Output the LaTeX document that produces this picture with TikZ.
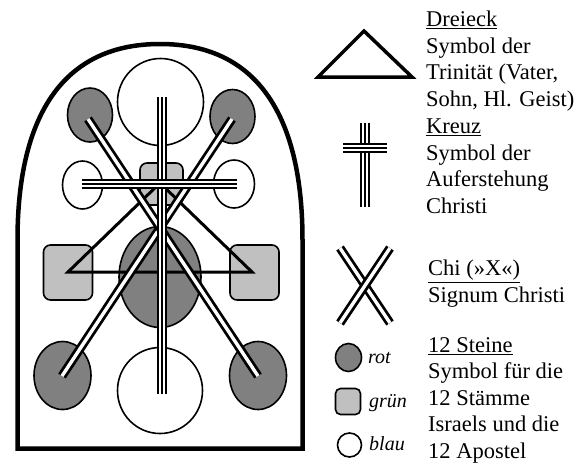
\documentclass[tikz,border=0pt]{standalone}
\usepackage{fontspec}
\setmainfont{Liberation Serif}
\usepackage{tikz}
\usetikzlibrary{shapes.geometric}
\definecolor{StoneRed}{RGB}{128, 128, 128}
\definecolor{StoneGreen}{RGB}{192, 192, 192}

\begin{document}
\begin{tikzpicture}[x=1pt, y=-1pt,
    stone/.style={draw=black, line width=1.6pt, inner sep=0pt},
    redstone/.style={stone, ellipse, fill=StoneRed},
    greenstone/.style={stone, rectangle, rounded corners=7pt, fill=StoneGreen},
    bluestone/.style={stone, ellipse, fill=white},
    tripleline/.style={line width=2pt, preaction={draw, line width=10pt}, preaction={draw=white, line width=6pt}},
    doubleline/.style={line width=2.8pt, double=white, double distance=3.4pt},
    legendtext/.style={font=\fontsize{22.5}{26.4}\selectfont, align=left, anchor=base west, inner sep=0pt},
    colorname/.style={font=\fontsize{20}{24}\selectfont\itshape, anchor=base west, inner sep=0pt}]
    \useasboundingbox (0,0) rectangle (586,464);

    % Window arch
    \draw[line width=4.5pt] (17.5,448.5) -- (17.5,240) .. controls (17.5,120) and (60,44) .. (160,44)
        .. controls (260,44) and (302.5,120) .. (302.5,240) -- (302.5,448.5) -- cycle;

    % 12 stones
    \node[bluestone, minimum width=86pt, minimum height=87pt] (topblue) at (160.5, 102) {};
    \node[redstone, minimum width=45pt, minimum height=54pt] (ulred) at (90, 115) {};
    \node[redstone, minimum width=45pt, minimum height=54pt] (urred) at (232.5, 116.5) {};
    \node[bluestone, minimum width=40pt, minimum height=48pt] (mlblue) at (82.5, 185) {};
    \node[bluestone, minimum width=41pt, minimum height=48pt] (mrblue) at (234, 184) {};
    \node[greenstone, minimum width=43pt, minimum height=42pt] (topgreen) at (161.5, 184) {};
    \node[greenstone, minimum width=49pt, minimum height=55pt] (lgreen) at (68, 272.5) {};
    \node[greenstone, minimum width=49pt, minimum height=55pt] (rgreen) at (254.5, 272.5) {};
    \node[redstone, minimum width=82pt, minimum height=101pt] (midred) at (160, 277) {};
    \node[redstone, minimum width=57pt, minimum height=68pt] (llred) at (62.5, 375.5) {};
    \node[redstone, minimum width=57pt, minimum height=68pt] (lrred) at (258, 375.5) {};
    \node[bluestone, minimum width=85pt, minimum height=86pt] (botblue) at (160, 390.5) {};

    % Triangle, Chi and cross
    \coordinate (apex) at (160, 183);
    \coordinate (tl) at (68, 272);
    \coordinate (tr) at (252, 272);
    \draw[line width=3pt] (tl) -- (apex) -- (tr) -- cycle;
    \coordinate (xa) at (62, 376);
    \coordinate (xb) at (232, 119);
    \coordinate (xc) at (88, 119);
    \coordinate (xd) at (258, 376);
    \draw[doubleline] (xa) -- (xb);
    \draw[doubleline] (xc) -- (xd);
    \coordinate (ctop) at (162, 97);
    \coordinate (cbot) at (162, 394);
    \coordinate (cleft) at (82, 184);
    \coordinate (cright) at (237, 184);
    \draw[tripleline] (ctop) -- (cbot);
    \draw[tripleline] (cleft) -- (cright);

    % Legend symbols
    \coordinate (lta) at (318, 77);
    \coordinate (ltb) at (364, 31);
    \coordinate (ltc) at (412, 77);
    \draw[line width=3.5pt] (lta) -- (ltb) -- (ltc) -- cycle;
    \coordinate (lct) at (365, 123);
    \coordinate (lcb) at (365, 207);
    \coordinate (lcl) at (343, 148);
    \coordinate (lcr) at (387, 148);
    \draw[tripleline] (lct) -- (lcb);
    \draw[tripleline] (lcl) -- (lcr);
    \coordinate (lxa) at (340, 248);
    \coordinate (lxb) at (390, 323);
    \coordinate (lxc) at (390, 248);
    \coordinate (lxd) at (340, 323);
    \draw[doubleline] (lxa) -- (lxb);
    \draw[doubleline] (lxc) -- (lxd);

    % Legend stones
    \node[redstone, minimum width=26pt, minimum height=28pt] (keyred) at (348.5, 357.5) {};
    \node[greenstone, rounded corners=5pt, minimum width=25pt, minimum height=26pt] (keygreen) at (348, 401.5) {};
    \node[bluestone, minimum width=24pt, minimum height=24pt] (keyblue) at (349.5, 445) {};
    \node[colorname] (rotlabel) at (368, 363) {rot};
    \node[colorname] (gruenlabel) at (369, 407) {grün};
    \node[colorname] (blaulabel) at (369, 450) {blau};

    % Legend texts (anchored at the baseline of their last line)
    \node[legendtext] (dreieck) at (426, 106) {\underline{Dreieck}\\Symbol der\\Trinität (Vater,\\Sohn, Hl. Geist)};
    \node[legendtext] (kreuz) at (426, 213) {\underline{Kreuz}\\Symbol der\\Auferstehung\\Christi};
    \node[legendtext] (chi) at (428, 302) {\underline{Chi (»X«)}\\Signum Christi};
    \node[legendtext] (steine) at (428, 458) {\underline{12 Steine}\\Symbol für die\\12 Stämme\\Israels und die\\12 Apostel};
\end{tikzpicture}
\end{document}
